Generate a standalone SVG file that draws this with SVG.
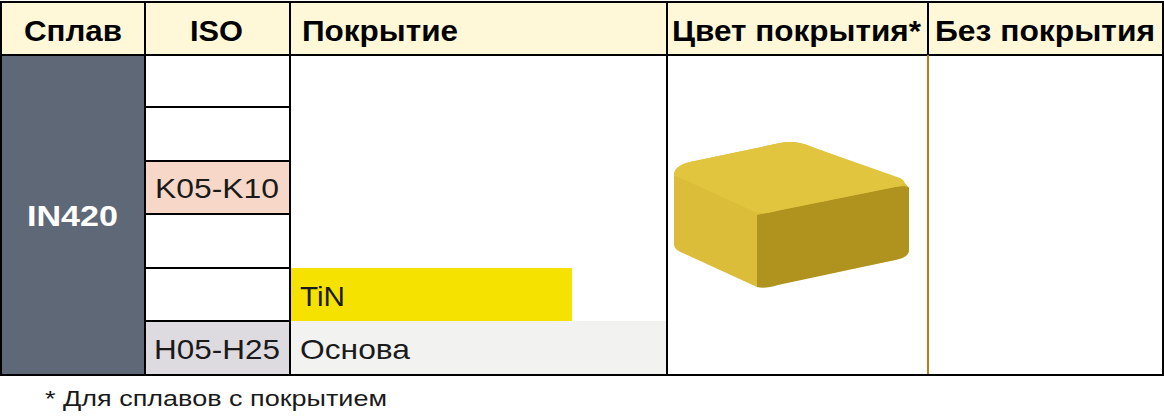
<svg xmlns="http://www.w3.org/2000/svg" width="1164" height="418" viewBox="0 0 1164 418">
<style>
.h{font-family:"Liberation Sans",Arial,sans-serif;font-weight:bold;font-size:29px;fill:#000}
.t{font-family:"Liberation Sans",Arial,sans-serif;font-size:28px;fill:#1a1a1a}
.ln{stroke:#000;stroke-width:2;fill:none}
</style>
<rect x="0" y="0" width="1164" height="418" fill="#fff"/>
<g id="header">
<rect x="2" y="3" width="1160" height="52" fill="#fef8d8"/>
<text class="h" x="24" y="41" textLength="98" lengthAdjust="spacingAndGlyphs">Сплав</text>
<text class="h" x="190" y="41" textLength="53" lengthAdjust="spacingAndGlyphs">ISO</text>
<text class="h" x="302" y="41" textLength="156" lengthAdjust="spacingAndGlyphs">Покрытие</text>
<text class="h" x="672" y="41" textLength="249" lengthAdjust="spacingAndGlyphs">Цвет покрытия*</text>
<text class="h" x="935" y="41" textLength="220" lengthAdjust="spacingAndGlyphs">Без покрытия</text>
</g>
<g id="alloy"><rect x="2" y="55" width="143" height="319" fill="#5f6877"/>
<text class="h" x="27" y="226" textLength="91" lengthAdjust="spacingAndGlyphs" style="fill:#fff">IN420</text></g>
<g id="iso">
<rect x="145" y="161" width="145" height="53" fill="#f7d8c8"/>
<rect x="145" y="321" width="145" height="53" fill="#dedbe0"/>
<text class="t" x="155" y="198" textLength="124" lengthAdjust="spacingAndGlyphs">K05-K10</text>
<text class="t" x="154" y="359" textLength="126" lengthAdjust="spacingAndGlyphs">H05-H25</text>
</g>
<g id="coating">
<rect x="290" y="268" width="282" height="53" fill="#f5e200"/>
<rect x="290" y="321" width="377" height="53" fill="#f2f2f0"/>
<text class="t" x="300" y="306" textLength="45" lengthAdjust="spacingAndGlyphs">TiN</text>
<text class="t" x="300" y="359" textLength="110" lengthAdjust="spacingAndGlyphs">Основа</text>
</g>
<g id="insert">
<path d="M674,175 Q674,166 690,162 L780,143 Q796,140 812,147 L900,180 Q909,184 909,192 L909,250 Q909,258 895,260 L775,284 Q765,288 757,284 Z" fill="#dbbd3a"/>
<path d="M757,215 L757,287 Q765,289 778,285 L895,260 Q909,257 909,250 L909,188 Q909,185 895,187 Z" fill="#b0921e"/>
<path d="M674,175 L674,245 Q674,250 685,254 L757,287 L757,215 L685,181 Q674,176 674,175 Z" fill="#dbbd3a"/>
<path d="M674,175 Q674,166 690,162 L780,143 Q796,140 812,147 L900,178 Q909,183 900,186 L780,210 Q765,215 755,212 L685,180 Q674,176 674,175 Z" fill="#e2c53f"/>
</g>
<g id="lines">
<path class="ln" d="M1,2 H1163 V375 H1 Z M1,55 H1163 M145,2 V375 M290,2 V375 M667,2 V375 M928,2 V55 M145,107 H290 M145,161 H290 M145,214 H290 M145,268 H290 M145,321 H290"/>
<path d="M928,55 V374" stroke="#c07a1a" stroke-width="2"/>
</g>
<text class="t" x="45" y="406" style="font-size:22px" textLength="342" lengthAdjust="spacingAndGlyphs">* Для сплавов с покрытием</text>
</svg>
